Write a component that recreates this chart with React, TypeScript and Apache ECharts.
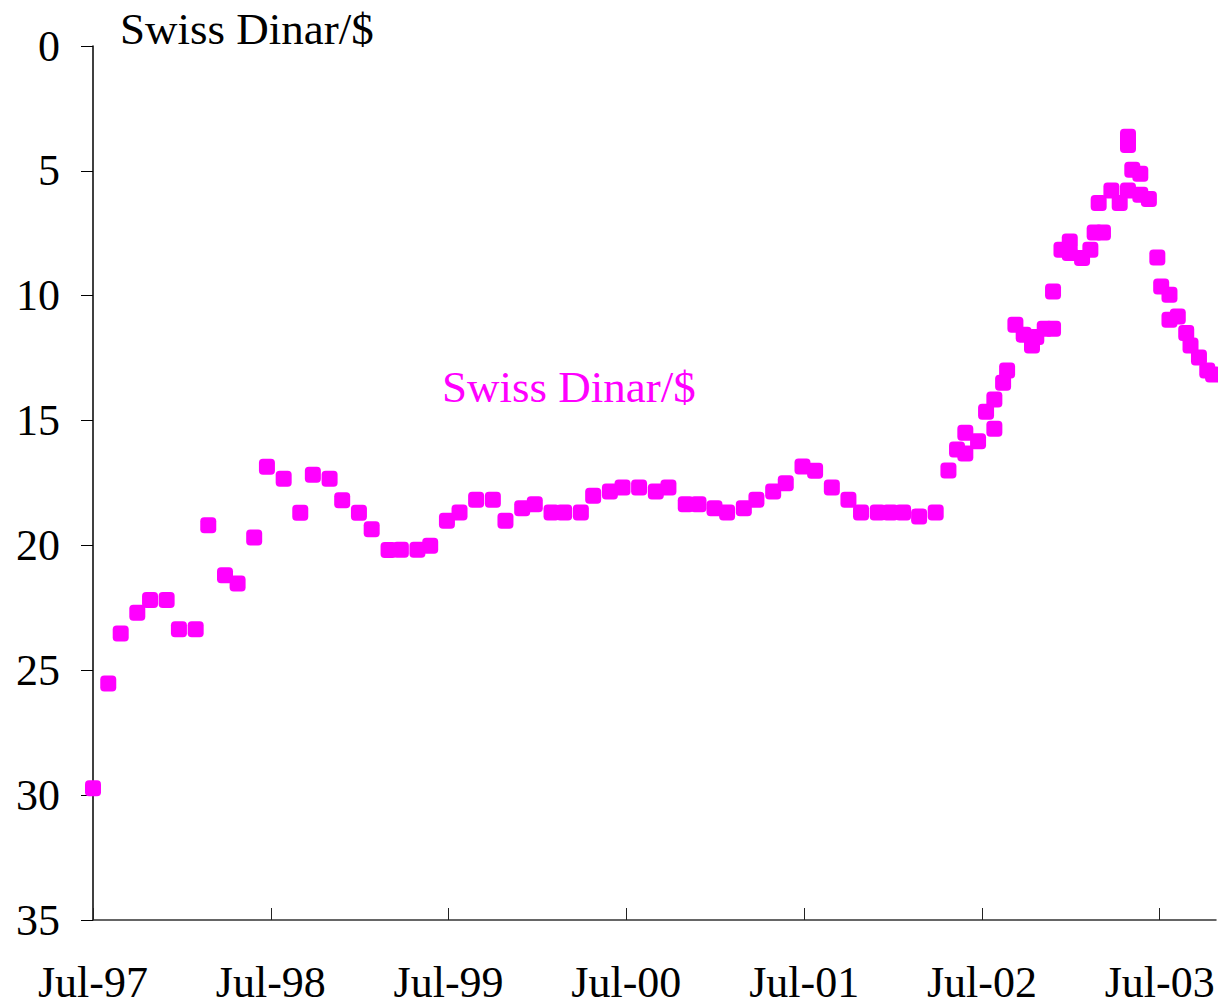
import React, { useEffect, useRef } from "react";
import * as echarts from "echarts";

// x: months since Jul-1997, y: Swiss Dinar per $
const months: number[] = [
  0, 1.03, 1.87, 2.99, 3.85, 4.97, 5.8, 6.93, 7.78, 8.91, 9.76, 10.88, 11.74,
  12.87, 13.99, 14.84, 15.97, 16.82, 17.95, 18.81, 19.95, 20.78, 21.9, 22.76,
  23.89, 24.74, 25.86, 26.99, 27.84, 28.97, 29.82, 30.95, 31.8, 32.93, 33.76,
  34.89, 35.74, 36.86, 37.99, 38.84, 40.01, 40.87, 41.95, 42.8, 43.93, 44.78,
  45.91, 46.76, 47.89, 48.74, 49.87, 50.99, 51.84, 52.97, 53.82, 54.68, 55.76,
  56.88, 57.74, 58.32, 58.88, 58.88, 59.74, 60.28, 60.84, 60.84, 61.43, 61.7,
  62.26, 62.82, 63.38, 63.67, 64.24, 64.8, 64.8, 65.37, 65.93, 65.93, 66.76,
  67.32, 67.61, 68.17, 67.88, 68.74, 69.3, 69.86, 69.86, 69.86, 70.15, 70.69,
  70.69, 71.27, 71.84, 72.1, 72.66, 72.66, 73.22, 73.79, 74.08, 74.65, 75.21,
  75.6,
];
const rates: number[] = [
  29.72, 25.53, 23.53, 22.7, 22.19, 22.19, 23.36, 23.36, 19.19, 21.19, 21.52,
  19.68, 16.85, 17.33, 18.69, 17.17, 17.33, 18.19, 18.69, 19.35, 20.18, 20.17,
  20.17, 20.01, 19.01, 18.68, 18.17, 18.17, 19.01, 18.51, 18.35, 18.68, 18.68,
  18.68, 18.01, 17.84, 17.68, 17.68, 17.84, 17.68, 18.35, 18.35, 18.51, 18.68,
  18.51, 18.17, 17.84, 17.51, 16.84, 17.01, 17.68, 18.17, 18.68, 18.68, 18.68,
  18.68, 18.84, 18.68, 17.0, 16.16, 15.49, 16.32, 15.83, 14.65, 14.16, 15.33,
  13.49, 12.99, 11.16, 11.56, 11.99, 11.65, 11.32, 11.32, 9.83, 8.16, 7.83,
  8.29, 8.49, 8.16, 7.47, 7.47, 6.29, 5.79, 6.29, 3.63, 3.96, 5.79, 4.96, 5.12,
  5.96, 6.13, 8.47, 9.63, 9.96, 10.96, 10.83, 11.49, 11.99, 12.47, 12.99,
  13.16,
];
const xTickLabels: string[] = [
  "Jul-97", "Jul-98", "Jul-99", "Jul-00", "Jul-01", "Jul-02", "Jul-03",
];
const seriesName = "Swiss Dinar/$";
const FONT = "'Liberation Serif', 'Times New Roman', serif";

export default function App() {
  const ref = useRef<HTMLDivElement>(null);
  useEffect(() => {
    if (!ref.current) return;
    const chart = echarts.init(ref.current, undefined, { renderer: "svg" });
    const data = months.map((m, i) => [m, rates[i]]);
    chart.setOption({
      animation: false,
      backgroundColor: "#ffffff",
      grid: { left: 93, top: 46, right: 2, bottom: 86, containLabel: false },
      xAxis: {
        type: "value",
        position: "bottom",
        min: 0,
        max: 75.8,
        interval: 12,
        splitLine: { show: false },
        axisLine: { show: true, onZero: false, lineStyle: { color: "#333", width: 1.5 } },
        axisTick: { show: true, inside: true, length: 12, lineStyle: { color: "#222", width: 1 } },
        axisLabel: {
          showMaxLabel: false,
          margin: 40,
          fontFamily: FONT,
          fontSize: 44,
          color: "#000",
          formatter: (v: number) => {
            const k = Math.round(v / 12);
            return Math.abs(v - k * 12) < 1e-6 && xTickLabels[k] ? xTickLabels[k] : "";
          },
        },
      },
      yAxis: {
        type: "value",
        inverse: true,
        min: 0,
        max: 35,
        interval: 5,
        splitLine: { show: false },
        axisLine: { show: true, onZero: false, lineStyle: { color: "#000", width: 1.5 } },
        axisTick: { show: true, inside: false, length: 12, lineStyle: { color: "#000", width: 1 } },
        axisLabel: {
          margin: 33,
          fontFamily: FONT,
          fontSize: 44,
          color: "#000",
        },
      },
      series: [
        {
          name: seriesName,
          type: "scatter",
          symbol: "roundRect",
          symbolSize: 16,
          itemStyle: { color: "#FF00FF", opacity: 1 },
          data,
        },
      ],
      graphic: [
        {
          type: "text",
          left: 120,
          top: 6,
          style: { text: seriesName, fontFamily: FONT, fontSize: 45, fill: "#000" },
        },
        {
          type: "text",
          left: 442,
          top: 364,
          style: { text: seriesName, fontFamily: FONT, fontSize: 45, fill: "#FF00FF" },
        },
      ],
    });
    return () => chart.dispose();
  }, []);
  return (
    <div
      ref={ref}
      style={{ position: "fixed", left: 0, top: 0, width: 1218, height: 1006 }}
    />
  );
}
